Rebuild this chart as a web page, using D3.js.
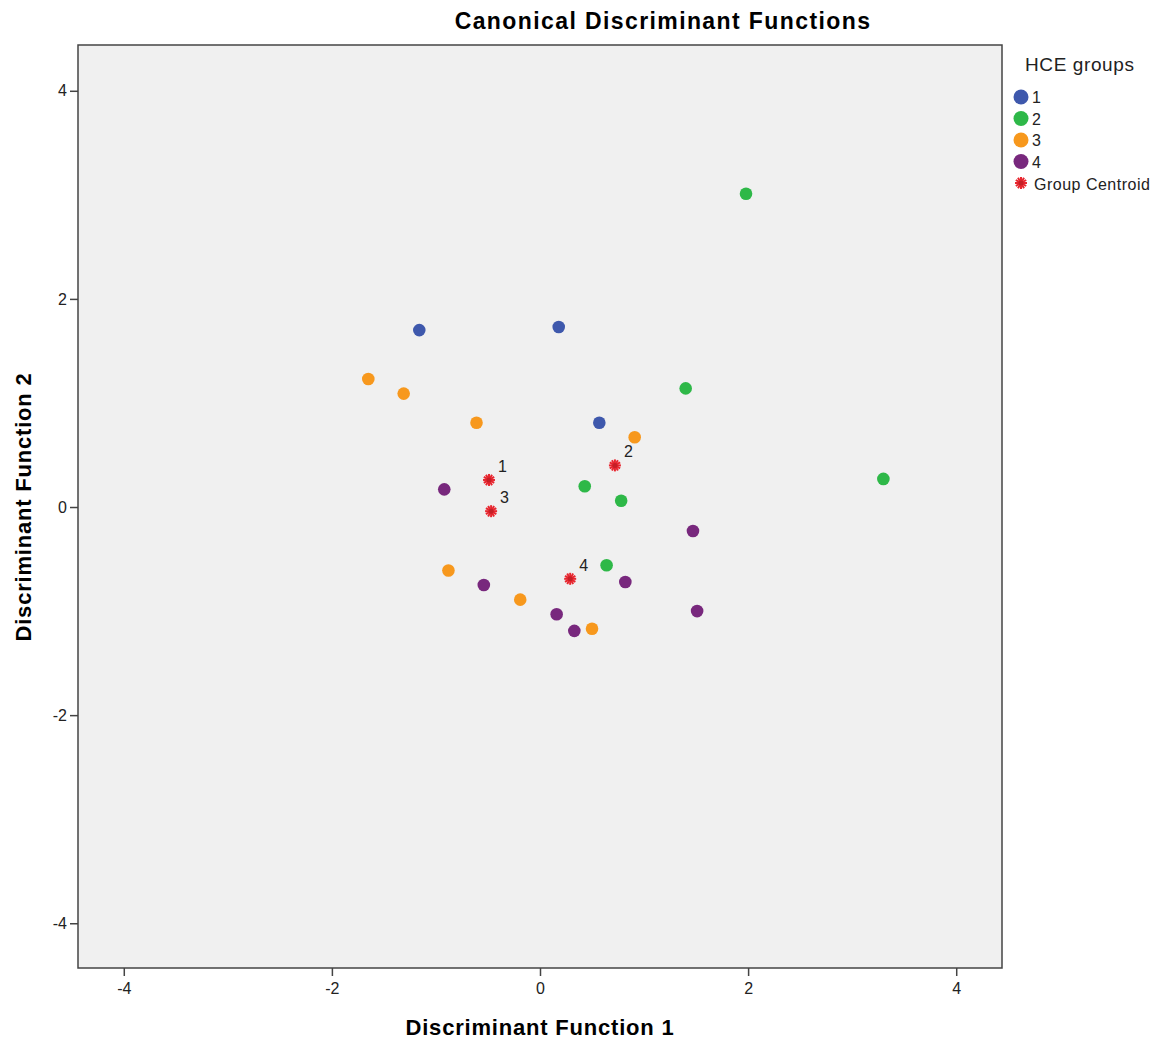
<!DOCTYPE html>
<html>
<head>
<meta charset="utf-8">
<script src="https://cdn.jsdelivr.net/npm/d3@7"></script>
<style>
  body { margin: 0; background: #fff; }
  svg { font-family: Arial, "Liberation Sans", sans-serif; }
</style>
</head>
<body>
<svg id="chart"></svg>
<script>
const WIDTH = 1161;
const HEIGHT = 1041;

// Data
const groups = ["1", "2", "3", "4"];
const groupColors = ["#3e58ac", "#2eb848", "#f7981d", "#78287d"];
const group1 = [[-1.16, 1.70], [0.18, 1.73], [0.57, 0.81]];
const group2 = [[1.98, 3.01], [1.40, 1.14], [3.30, 0.27], [0.43, 0.20], [0.78, 0.06], [0.64, -0.56]];
const group3 = [[-1.65, 1.23], [-1.31, 1.09], [-0.61, 0.81], [0.91, 0.67], [-0.88, -0.61], [-0.19, -0.89], [0.50, -1.17]];
const group4 = [[-0.92, 0.17], [1.47, -0.23], [-0.54, -0.75], [0.82, -0.72], [1.51, -1.00], [0.16, -1.03], [0.33, -1.19]];
const centroids = [[-0.49, 0.26], [0.72, 0.40], [-0.47, -0.04], [0.29, -0.69]];
const xTicks = [-4, -2, 0, 2, 4];
const yTicks = [-4, -2, 0, 2, 4];

const margin = { left: 78, right: 159, top: 45, bottom: 73 };
const svg = d3.select("#chart").attr("width", WIDTH).attr("height", HEIGHT);

const x = d3.scaleLinear().domain([-4.44, 4.44]).range([margin.left, WIDTH - margin.right]);
const y = d3.scaleLinear().domain([-4.43, 4.44]).range([HEIGHT - margin.bottom, margin.top]);

// plot background
svg.append("rect")
    .attr("x", x(-4.44)).attr("y", y(4.44))
    .attr("width", x(4.44) - x(-4.44))
    .attr("height", y(-4.43) - y(4.44))
    .attr("fill", "#f0f0f0")
    .attr("stroke", "#444")
    .attr("stroke-width", 1.5);

// axes, hyphen as minus like the original
const fmt = d => String(d);
const xAxis = svg.append("g")
    .attr("transform", "translate(0," + y(-4.43) + ")")
    .call(d3.axisBottom(x).tickValues(xTicks).tickFormat(fmt).tickSize(8).tickPadding(7));
const yAxis = svg.append("g")
    .attr("transform", "translate(" + x(-4.44) + ",0)")
    .call(d3.axisLeft(y).tickValues(yTicks).tickFormat(fmt).tickSize(8).tickPadding(3));
[xAxis, yAxis].forEach(a => {
    a.attr("font-size", 16);
    a.select(".domain").remove();
    a.selectAll("line").attr("stroke", "#444").attr("stroke-width", 1.5);
    a.selectAll("text").attr("fill", "#222")
        .style("font-family", "Arial, 'Liberation Sans', sans-serif");
});

// titles
svg.append("text")
    .attr("x", 663).attr("y", 29)
    .attr("text-anchor", "middle")
    .style("font-size", "23px").style("font-weight", "bold")
    .style("letter-spacing", "1.4px")
    .text("Canonical Discriminant Functions");
svg.append("text")
    .attr("x", x(0)).attr("y", 1035)
    .attr("text-anchor", "middle")
    .style("font-size", "22px").style("font-weight", "bold")
    .style("letter-spacing", "0.8px")
    .text("Discriminant Function 1");
svg.append("text")
    .attr("transform", "translate(31," + y(0) + ") rotate(-90)")
    .attr("text-anchor", "middle")
    .style("font-size", "22px").style("font-weight", "bold")
    .style("letter-spacing", "0.8px")
    .text("Discriminant Function 2");

// points
const allGroups = [group1, group2, group3, group4];
const pointsGroup = svg.append("g");
allGroups.forEach((pts, i) => {
    pointsGroup.selectAll(null)
        .data(pts)
        .enter()
        .append("circle")
        .attr("cx", d => x(d[0]))
        .attr("cy", d => y(d[1]))
        .attr("r", 6.3)
        .attr("fill", groupColors[i]);
});

// star marker
function drawStar(g, cx, cy, r) {
    for (let k = 0; k < 6; k++) {
        let a = k * Math.PI / 6;
        g.append("line")
            .attr("x1", cx - r * Math.cos(a)).attr("y1", cy - r * Math.sin(a))
            .attr("x2", cx + r * Math.cos(a)).attr("y2", cy + r * Math.sin(a))
            .attr("stroke", "#e8262f").attr("stroke-width", 2);
    }
    g.append("circle").attr("cx", cx).attr("cy", cy).attr("r", 2.5).attr("fill", "#c51f26");
}

const centroidGroup = svg.append("g");
centroids.forEach((c, i) => {
    drawStar(centroidGroup, x(c[0]), y(c[1]), 6);
    centroidGroup.append("text")
        .attr("x", x(c[0]) + 9).attr("y", y(c[1]) - 8)
        .style("font-size", "16px").attr("fill", "#222")
        .text(groups[i]);
});

// legend
const legend = svg.append("g");
legend.append("text")
    .attr("x", 1025).attr("y", 71)
    .style("font-size", "19px").style("letter-spacing", "0.6px").attr("fill", "#222")
    .text("HCE groups");
groups.forEach((g, i) => {
    let ly = 97 + i * 21.5;
    legend.append("circle").attr("cx", 1021).attr("cy", ly).attr("r", 7.5).attr("fill", groupColors[i]);
    legend.append("text").attr("x", 1032).attr("y", ly + 6)
        .style("font-size", "16px").attr("fill", "#222").text(g);
});
drawStar(legend, 1021, 183, 6);
legend.append("text").attr("x", 1034).attr("y", 190)
    .style("font-size", "16px").style("letter-spacing", "0.5px").attr("fill", "#222").text("Group Centroid");
</script>
</body>
</html>
